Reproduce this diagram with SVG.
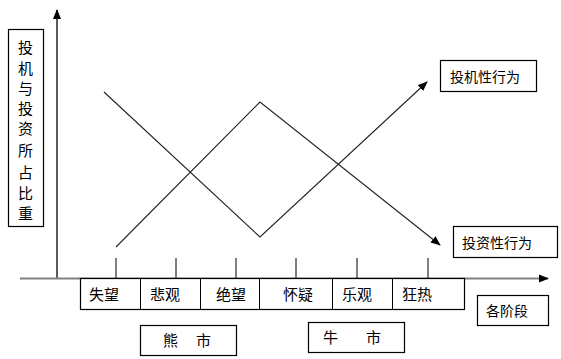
<svg xmlns="http://www.w3.org/2000/svg" width="561" height="359" viewBox="0 0 561 359">
<style>
text{font-family:"Noto Sans CJK SC","Liberation Sans",sans-serif;font-size:15px;fill:#000}
.sm{font-size:14px}
.box{fill:#fff;stroke:#000;stroke-width:1.2}
.ln{stroke:#222;stroke-width:1.1;fill:none}
.tick{stroke:#000;stroke-width:1}
</style>
<defs>
<marker id="ah" viewBox="0 0 10 10" refX="9" refY="5" markerWidth="10" markerHeight="10" markerUnits="userSpaceOnUse" orient="auto">
<path d="M0,1 L10,5 L0,9 Z" fill="#000"/>
</marker>
</defs>
<rect width="561" height="359" fill="#fff"/>
<g id="connectors">
<line x1="57" y1="278" x2="57" y2="10" stroke="#000" stroke-width="1.3" marker-end="url(#ah)"/>
<line x1="20" y1="278.5" x2="548" y2="278.5" stroke="#808080" stroke-width="2" marker-end="url(#ah)"/>
<line class="tick" x1="116" y1="258" x2="116" y2="278"/>
<line class="tick" x1="176" y1="258" x2="176" y2="278"/>
<line class="tick" x1="236" y1="258" x2="236" y2="278"/>
<line class="tick" x1="296" y1="258" x2="296" y2="278"/>
<line class="tick" x1="357" y1="258" x2="357" y2="278"/>
<line class="tick" x1="428" y1="258" x2="428" y2="278"/>
<polyline class="ln" points="104,92 260,237 427,82" marker-end="url(#ah)"/>
<polyline class="ln" points="116,247 260,102 440,245" marker-end="url(#ah)"/>
</g>
<g id="ylabel">
<rect class="box" x="8.5" y="29.5" width="35" height="197"/>
<text x="25.5" text-anchor="middle"><tspan x="25.5" y="53">投</tspan><tspan x="25.5" y="74">机</tspan><tspan x="25.5" y="94">与</tspan><tspan x="25.5" y="114">投</tspan><tspan x="25.5" y="134">资</tspan><tspan x="25.5" y="156">所</tspan><tspan x="25.5" y="178">占</tspan><tspan x="25.5" y="199">比</tspan><tspan x="25.5" y="219">重</tspan></text>
</g>
<g id="stages">
<rect class="box" x="80.5" y="278.5" width="384" height="31"/>
<line class="tick" x1="140.5" y1="278.5" x2="140.5" y2="309.5"/>
<line class="tick" x1="200.5" y1="278.5" x2="200.5" y2="309.5"/>
<line class="tick" x1="259.5" y1="278.5" x2="259.5" y2="309.5"/>
<line class="tick" x1="332.5" y1="278.5" x2="332.5" y2="309.5"/>
<line class="tick" x1="392.5" y1="278.5" x2="392.5" y2="309.5"/>
<text x="89" y="300">失望</text>
<text x="150" y="300">悲观</text>
<text x="216" y="300">绝望</text>
<text x="283" y="300">怀疑</text>
<text x="342" y="300">乐观</text>
<text x="402" y="300">狂热</text>
</g>
<g id="bear">
<rect class="box" x="140.5" y="325.5" width="96" height="30"/>
<text x="163" y="346">熊</text>
<text x="196" y="346">市</text>
</g>
<g id="bull">
<rect class="box" x="308.5" y="322.5" width="96" height="30"/>
<text x="323" y="343">牛</text>
<text x="366" y="343">市</text>
</g>
<g id="stageslabel">
<rect class="box" x="477.5" y="295.5" width="71" height="30"/>
<text class="sm" x="486" y="316">各阶段</text>
</g>
<g id="spec">
<rect class="box" x="440.5" y="60.5" width="96" height="31"/>
<text class="sm" x="450" y="82">投机性行为</text>
</g>
<g id="invest">
<rect class="box" x="453.5" y="226.5" width="104" height="31"/>
<text class="sm" x="462" y="248">投资性行为</text>
</g>
</svg>
